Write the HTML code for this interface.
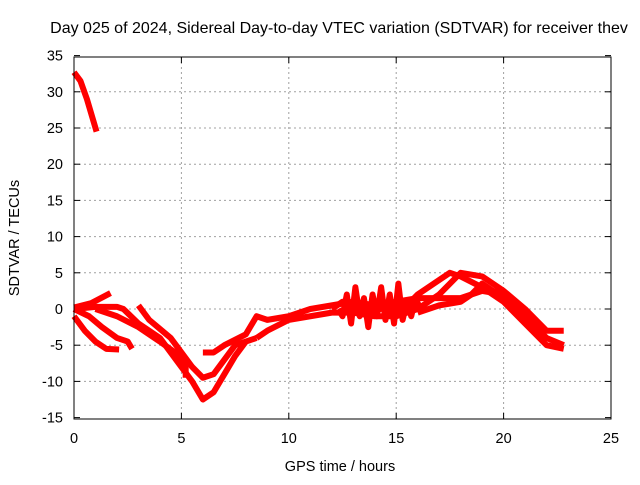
<!DOCTYPE html>
<html><head><meta charset="utf-8"><style>
body{margin:0;background:#fff}
svg text{font-family:"Liberation Sans",sans-serif;font-size:14.5px;fill:#000}
</style></head><body>
<svg id="c" width="640" height="480">
<text x="339" y="33" text-anchor="middle" style="font-size:16px">Day 025 of 2024, Sidereal Day-to-day VTEC variation (SDTVAR) for receiver thev</text>
<text x="340" y="471" text-anchor="middle">GPS time / hours</text>
<text transform="translate(19,238) rotate(-90)" text-anchor="middle">SDTVAR / TECUs</text>
<g id="grid"></g><g id="series"></g>
<rect x="74" y="57" width="537" height="362" fill="none" stroke="#000" stroke-width="1"/>
</svg>
<script>
const xTicks=[0,5,10,15,20,25];
const yTicks=[-15,-10,-5,0,5,10,15,20,25,30,35];
const trace1=[[0,32.7],[0.3,31.5],[0.6,29],[0.9,26],[1.05,24.5]];
const trace2=[[0,0.2],[0.8,0.8],[1.7,2.2]];
const trace3=[[0,0],[1,0.3],[2,0.3],[2.3,0],[3,-2],[4,-4],[4.5,-6],[5,-8],[5.5,-10],[6,-12.5],[6.5,-11.5],[7,-9],[7.5,-6.5],[8,-4.5],[8.5,-4]];
const trace4=[[3,0.5],[3.5,-1.5],[4.5,-4],[5,-6],[5.5,-8],[6,-9.5],[6.5,-9],[7,-7],[7.5,-5],[8,-4.5]];
const trace5=[[0,-1],[0.5,-3],[1,-4.5],[1.5,-5.5],[2.1,-5.6]];
const trace6=[[0,0],[0.7,-1],[1.3,-2.5],[2,-4],[2.5,-4.5],[2.7,-5.5]];
const trace7=[[1,0],[2,-1],[3,-2.5],[4,-4.5],[4.7,-6],[5.2,-7.5],[5.2,-9.5]];
const trace8=[[6,-6],[6.5,-6],[7,-5],[8,-3.5],[8.5,-1],[9,-1.5],[10,-1],[11,0],[12,0.5],[13,1],[14,0.5],[15,1],[16,1.5],[17,1.5],[18,1.5],[19,2.5],[20,2],[21,-1],[22,-4],[22.8,-5]];
const trace9=[[8.5,-4],[9,-3],[10,-1.5],[11,-1],[12,-0.5],[13,-0.5],[14,-1],[15,-1],[16,0],[17,2],[18,5],[19,4.5],[20,2.5],[21,0],[22,-3],[22.8,-3]];
const trace10=[[15.5,0.5],[16,2],[17,4],[17.5,5],[18,4.5],[19,3],[19.5,2],[20,1],[21,-2],[22,-5],[22.8,-5.5]];
const trace11=[[16,-0.5],[17,0.5],[18,1],[18.5,2],[19,3.5],[19.5,2.5],[20,2],[20.5,0]];
const trace12=[[12.3,0],[12.5,-1],[12.7,2],[12.9,-2],[13.1,3],[13.3,-1],[13.5,1.5],[13.7,-2.5],[13.9,2],[14.1,-1],[14.3,3],[14.5,-1.5],[14.7,2],[14.9,-2],[15.1,3.5],[15.3,-1.5],[15.5,1],[15.7,-1],[15.9,1.5],[16.2,-0.5]];
const trace13=[[12,0],[12.5,1],[13,0],[13.5,0.5],[14,-0.5],[14.5,0.5],[15,-0.3],[15.5,0.5],[16,0.3]];
const traces=[trace1,trace2,trace3,trace4,trace5,trace6,trace7,trace8,trace9,trace10,trace11,trace12,trace13];
const X=v=>74+v*(537/25), Y=v=>309-v*(362/50);
const NS="http://www.w3.org/2000/svg";
const grid=document.getElementById('grid'), ser=document.getElementById('series');
function mk(t,a,p){const e=document.createElementNS(NS,t);for(const k in a)e.setAttribute(k,a[k]);p.appendChild(e);return e;}
xTicks.forEach(v=>{
 if(v>0&&v<25){const g=mk('line',{x1:X(v),x2:X(v),y1:57,y2:419,stroke:'#a0a0a0','stroke-dasharray':'2,3'},grid);
 
 }
 mk('line',{x1:X(v),x2:X(v),y1:419,y2:413,stroke:'#000'},grid);
 mk('line',{x1:X(v),x2:X(v),y1:57,y2:63,stroke:'#000'},grid);
 const t=mk('text',{x:X(v),y:443,'text-anchor':'middle'},grid);t.textContent=v;
 
 
});
yTicks.forEach(v=>{
 if(v>-15&&v<35){const g=mk('line',{x1:74,x2:611,y1:Y(v),y2:Y(v),stroke:'#a0a0a0','stroke-dasharray':'2,3'},grid);
 
 }
 mk('line',{x1:74,x2:80,y1:Y(v),y2:Y(v),stroke:'#000'},grid);
 mk('line',{x1:611,x2:605,y1:Y(v),y2:Y(v),stroke:'#000'},grid);
 const t=mk('text',{x:63,y:Y(v)+5,'text-anchor':'end'},grid);t.textContent=v;
 
 
});
traces.forEach((tr)=>{
 const p=mk('polyline',{points:tr.map(d=>X(d[0])+','+Y(d[1])).join(' '),fill:'none',stroke:'#ff0000','stroke-width':6,'stroke-linejoin':'round'},ser);
 
 
});
</script>
</body></html>
